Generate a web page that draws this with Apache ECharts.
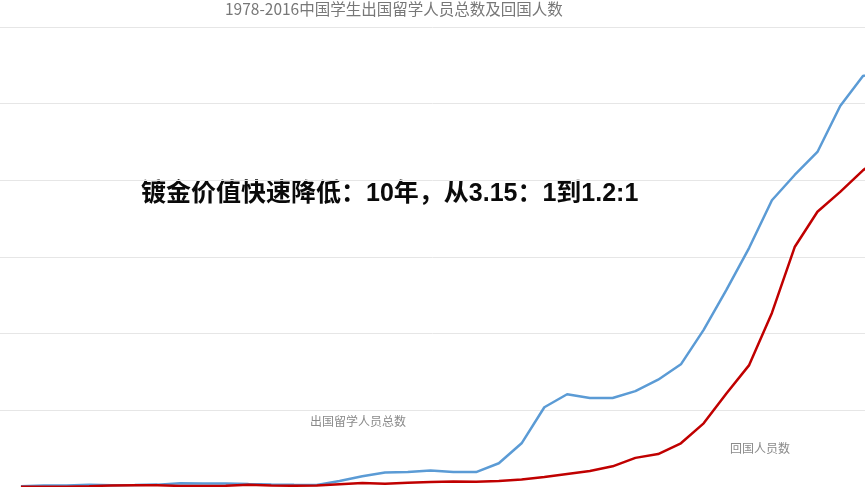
<!DOCTYPE html>
<html>
<head>
<meta charset="utf-8">
<script src="https://cdn.jsdelivr.net/npm/echarts@6/dist/echarts.min.js"></script>
<style>
  html, body { margin: 0; padding: 0; background: #fff; }
  #chart { width: 865px; height: 487px; }
</style>
</head>
<body>
<div id="chart"></div>
<script>
"use strict";

const years = [
  1978, 1979, 1980, 1981, 1982, 1983, 1984, 1985, 1986, 1987,
  1988, 1989, 1990, 1991, 1992, 1993, 1994, 1995, 1996, 1997,
  1998, 1999, 2000, 2001, 2002, 2003, 2004, 2005, 2006, 2007,
  2008, 2009, 2010, 2011, 2012, 2013, 2014, 2015, 2016,
];
// 出国留学人员总数
const abroad = [
  900, 1800, 2100, 2900, 2300, 2600, 3100, 4900, 4700, 4700,
  3800, 3300, 2900, 2600, 7800, 14000, 19000, 19500, 21500, 19500,
  19500, 31000, 57000, 104000, 121000, 116000, 116000, 125000, 140000, 160000,
  205000, 257000, 312000, 374000, 407000, 437000, 497000, 536000, 545000,
];
// 回国人员数
const returned = [
  300, 200, 200, 1100, 2100, 2300, 2300, 1400, 1400, 1600,
  3000, 1800, 1600, 2100, 3600, 5100, 4200, 5700, 6600, 7100,
  7000, 7800, 9800, 13000, 17000, 21000, 27000, 38000, 43000, 57000,
  83000, 122000, 159000, 227000, 313000, 359000, 385000, 413000, 435000,
];
const yTicks = { min: 0, max: 600000, interval: 100000 };

const colors = { blue: "#5b9bd5", red: "#c00000", grid: "#e6e6e6", label: "#8a8a8a", title: "#777777" };
const font = "'Liberation Sans', 'Noto Sans CJK SC', sans-serif";

const chart = echarts.init(document.getElementById("chart"), null, { renderer: "canvas" });

const pairs = (values) => years.map((year, i) => [year, values[i]]);

chart.setOption({
  animation: false,
  backgroundColor: "#ffffff",
  title: {
    text: "1978-2016中国学生出国留学人员总数及回国人数",
    left: 225, top: 1, padding: 0,
    textStyle: { fontFamily: "'Noto Sans CJK SC', sans-serif", fontSize: 15.5, fontWeight: "normal", color: colors.title },
  },
  grid: { left: 0, right: 0, top: 27, bottom: 0 },
  xAxis: { type: "value", min: 1977.08, max: 2015.09, show: false },
  yAxis: {
    type: "value", ...yTicks,
    axisLabel: { show: false }, axisLine: { show: false }, axisTick: { show: false },
    splitLine: { lineStyle: { color: colors.grid, width: 1 } },
  },
  series: [
    {
      name: "出国留学人员总数", type: "line", data: pairs(abroad), showSymbol: false, smooth: false,
      lineStyle: { color: colors.blue, width: 2.5 }, itemStyle: { color: colors.blue },
    },
    {
      name: "回国人员数", type: "line", data: pairs(returned), showSymbol: false, smooth: false,
      lineStyle: { color: colors.red, width: 2.5 }, itemStyle: { color: colors.red },
    },
  ],
  graphic: [
    {
      type: "text", left: 141, top: 182,
      style: { text: "镀金价值快速降低：10年，从3.15：1到1.2:1", font: "bold 25px " + font, fill: "#0a0a0a" },
    },
    {
      type: "text", left: 310, top: 415,
      style: { text: "出国留学人员总数", font: "12px 'Noto Sans CJK SC', sans-serif", fill: colors.label },
    },
    {
      type: "text", left: 730, top: 442,
      style: { text: "回国人员数", font: "12px 'Noto Sans CJK SC', sans-serif", fill: colors.label },
    },
  ],
});
</script>
</body>
</html>
